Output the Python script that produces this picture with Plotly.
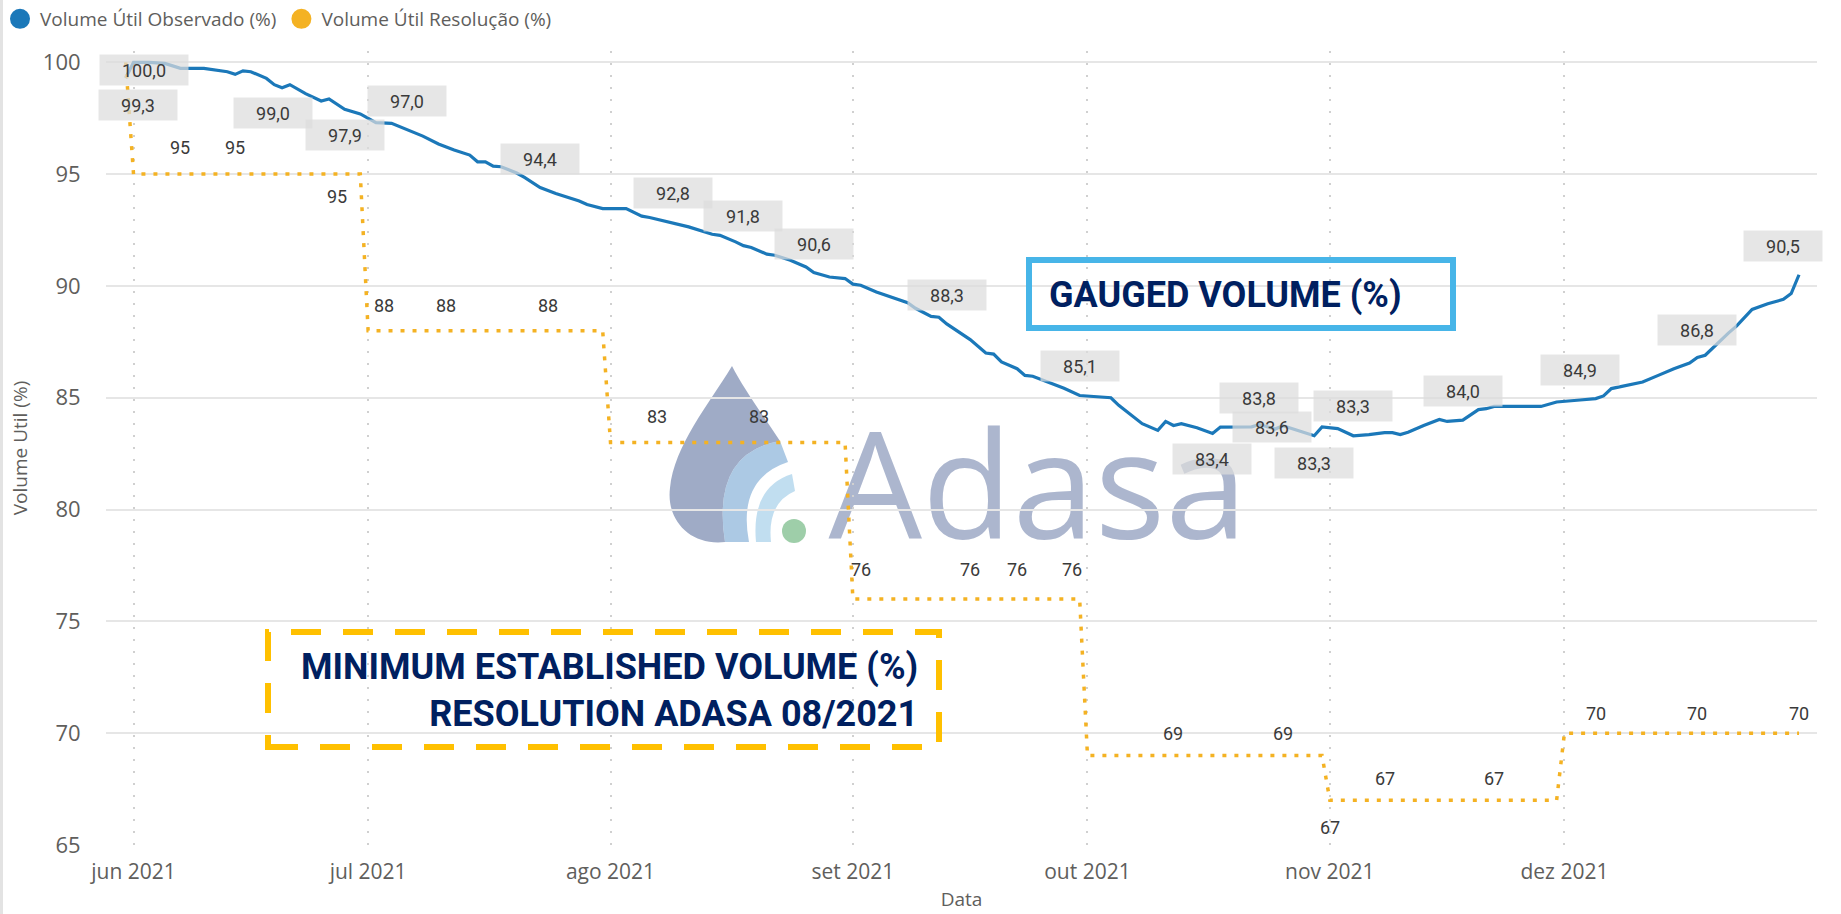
import plotly.graph_objects as go

# ---------------- data ----------------
obs_dates = [
    "2021-05-31", "2021-06-01", "2021-06-03", "2021-06-05", "2021-06-07", "2021-06-10",
    "2021-06-13", "2021-06-14", "2021-06-15", "2021-06-16", "2021-06-18", "2021-06-19",
    "2021-06-20", "2021-06-21", "2021-06-23", "2021-06-25", "2021-06-26", "2021-06-28",
    "2021-06-30", "2021-07-02", "2021-07-04", "2021-07-06", "2021-07-08", "2021-07-10",
    "2021-07-12", "2021-07-14", "2021-07-15", "2021-07-16", "2021-07-17", "2021-07-18",
    "2021-07-20", "2021-07-21", "2021-07-23", "2021-07-25", "2021-07-28", "2021-07-29",
    "2021-07-31", "2021-08-03", "2021-08-05", "2021-08-06", "2021-08-08", "2021-08-09",
    "2021-08-11", "2021-08-14", "2021-08-15", "2021-08-17", "2021-08-18", "2021-08-19",
    "2021-08-21", "2021-08-22", "2021-08-24", "2021-08-26", "2021-08-27", "2021-08-29",
    "2021-08-31", "2021-09-01", "2021-09-02", "2021-09-04", "2021-09-06", "2021-09-08",
    "2021-09-09", "2021-09-11", "2021-09-12", "2021-09-13", "2021-09-16", "2021-09-18",
    "2021-09-19", "2021-09-20", "2021-09-22", "2021-09-23", "2021-09-24", "2021-09-26",
    "2021-09-28", "2021-09-30", "2021-10-03", "2021-10-04", "2021-10-05", "2021-10-07",
    "2021-10-08", "2021-10-10", "2021-10-11", "2021-10-12", "2021-10-13", "2021-10-15",
    "2021-10-17", "2021-10-18", "2021-10-22", "2021-10-23", "2021-10-25", "2021-10-26",
    "2021-10-28", "2021-10-30", "2021-10-31", "2021-11-01", "2021-11-02", "2021-11-04",
    "2021-11-06", "2021-11-08", "2021-11-09", "2021-11-10", "2021-11-11", "2021-11-13",
    "2021-11-15", "2021-11-16", "2021-11-18", "2021-11-20", "2021-11-21", "2021-11-22",
    "2021-11-28", "2021-11-30", "2021-12-02", "2021-12-03", "2021-12-05", "2021-12-06",
    "2021-12-07", "2021-12-08", "2021-12-11", "2021-12-13", "2021-12-15", "2021-12-17",
    "2021-12-18", "2021-12-19", "2021-12-21", "2021-12-22", "2021-12-23", "2021-12-25",
    "2021-12-27", "2021-12-29", "2021-12-30", "2021-12-31",
]
obs_values = [
    99.3, 100.0, 100.0, 99.95, 99.73, 99.73,
    99.58, 99.46, 99.62, 99.58, 99.28, 99.0,
    98.86, 99.0, 98.6, 98.27, 98.36, 97.9,
    97.69, 97.3, 97.27, 97.0, 96.7, 96.35,
    96.08, 95.85, 95.55, 95.55, 95.36, 95.33,
    95.05, 94.85, 94.4, 94.13, 93.8, 93.64,
    93.46, 93.46, 93.12, 93.06, 92.9, 92.8,
    92.64, 92.31, 92.26, 91.97, 91.8, 91.72,
    91.42, 91.37, 91.15, 90.85, 90.6, 90.4,
    90.33, 90.08, 90.03, 89.73, 89.5, 89.25,
    89.0, 88.64, 88.6, 88.3, 87.6, 87.0,
    86.95, 86.6, 86.3, 86.0, 85.96, 85.7,
    85.42, 85.1, 85.05, 85.0, 84.66, 84.14,
    83.84, 83.54, 83.94, 83.76, 83.84, 83.66,
    83.4, 83.69, 83.7, 83.8, 83.6, 83.75,
    83.54, 83.3, 83.69, 83.66, 83.62, 83.3,
    83.35, 83.44, 83.44, 83.35, 83.46, 83.76,
    84.03, 83.94, 84.0, 84.47, 84.51, 84.61,
    84.61, 84.81, 84.85, 84.9, 84.96, 85.08,
    85.41, 85.48, 85.7, 86.0, 86.3, 86.55,
    86.8, 86.9, 87.6, 87.9, 88.2, 88.95,
    89.2, 89.4, 89.66, 90.5,
]

res_dates = [
    "2021-05-31", "2021-06-01", "2021-06-30", "2021-07-01", "2021-07-31",
    "2021-08-01", "2021-08-31", "2021-09-01", "2021-09-30", "2021-10-01",
    "2021-10-31", "2021-11-01", "2021-11-30", "2021-12-01", "2021-12-31",
]
res_values = [100, 95, 95, 88, 88, 83, 83, 76, 76, 69, 69, 67, 67, 70, 70]

month_ticks = ["2021-06-01", "2021-07-01", "2021-08-01", "2021-09-01",
               "2021-10-01", "2021-11-01", "2021-12-01"]
month_labels = ["jun 2021", "jul 2021", "ago 2021", "set 2021",
                "out 2021", "nov 2021", "dez 2021"]

y_ticks = [65, 70, 75, 80, 85, 90, 95, 100]

# data labels (points that carry a label)
obs_label_dates = [
    "2021-05-31", "2021-06-01", "2021-06-19", "2021-06-28", "2021-07-06",
    "2021-07-23", "2021-08-09", "2021-08-18", "2021-08-27", "2021-09-13",
    "2021-09-30", "2021-10-17", "2021-10-23", "2021-10-25", "2021-10-30",
    "2021-11-04", "2021-11-18", "2021-12-03", "2021-12-18", "2021-12-31",
]
res_label_dates = [
    "2021-06-07", "2021-06-14", "2021-06-27", "2021-07-03", "2021-07-11",
    "2021-07-24", "2021-08-07", "2021-08-20", "2021-09-02", "2021-09-16",
    "2021-09-22", "2021-09-29", "2021-10-12", "2021-10-26", "2021-11-01",
    "2021-11-08", "2021-11-22", "2021-12-05", "2021-12-18", "2021-12-31",
]

# ---------------- styling / placement ----------------
W, H = 1841, 914
PL, PR, PT, PB = 106, 1817, 51, 845  # plot area in px

obs_label_shift = [(12, -27), (10, -8), (-1, -28), (0, -26), (0, 28),
                   (0, 29), (0, 30), (0, 30), (0, 29), (0, 29),
                   (0, 30), (-1, -25), (0, 27), (-3, 2), (0, -27),
                   (0, 30), (0, 29), (0, 30), (0, 27), (-16, 29)]
res_label_dy = [27, 27, -22, 25, 25, 25, 26, 26, 30, 30,
                30, 30, 22, 22, -27, 22, 22, 20, 20, 20]

BLUE = "#1B78B9"
GOLD = "#F4B223"
TXT = "#605E5C"
LBL = "#3A3A3A"
NAVY = "#002060"
UI_FONT = "Segoe UI, Open Sans, sans-serif"


def to_paper(x, y):
    return (x - PL) / (PR - PL), (PB - y) / (PB - PT)


def px_path(spec):
    out, nums = [], []
    for t in spec.split():
        if t.isalpha():
            out.append(t)
        else:
            nums.append(float(t))
            if len(nums) == 2:
                a, b = to_paper(*nums)
                out.append(f"{a:.5f},{b:.5f}")
                nums = []
    return " ".join(out)


fig = go.Figure()

# real series (legend drawn by marker-only proxies)
fig.add_trace(go.Scatter(x=obs_dates, y=obs_values, mode="lines",
                         line=dict(color=BLUE, width=3.2), showlegend=False,
                         name="Volume Útil Observado (%)"))
fig.add_trace(go.Scatter(x=res_dates, y=res_values, mode="lines",
                         line=dict(color=GOLD, width=3.5, dash="4px,8px"),
                         showlegend=False, name="Volume Útil Resolução (%)"))
fig.add_trace(go.Scatter(x=[None], y=[None], mode="markers",
                         marker=dict(color=BLUE, size=16, line=dict(color=BLUE, width=4)),
                         name="Volume Útil Observado (%)"))
fig.add_trace(go.Scatter(x=[None], y=[None], mode="markers",
                         marker=dict(color=GOLD, size=16, line=dict(color=GOLD, width=4)),
                         name="Volume Útil Resolução (%)"))

annotations = []
obs_lookup = dict(zip(obs_dates, obs_values))
for d, (dx, dy) in zip(obs_label_dates, obs_label_shift):
    v = obs_lookup[d]
    txt = f"{v:.1f}".replace(".", ",")
    annotations.append(dict(
        x=d, y=v, xref="x", yref="y", text=txt, showarrow=False,
        xshift=dx, yshift=dy, font=dict(family="Roboto", size=18, color=LBL),
        bgcolor="rgba(220,220,220,0.72)", width=88 if v >= 100 else 78,
        height=30, borderpad=0))


def res_value_at(d):
    val = res_values[0]
    for rd, rv in zip(res_dates, res_values):
        if rd <= d:
            val = rv
    return val


for d, dy in zip(res_label_dates, res_label_dy):
    v = res_value_at(d)
    annotations.append(dict(
        x=d, y=v, xref="x", yref="y", text=str(v), showarrow=False,
        yshift=dy, font=dict(family="Roboto", size=18, color=LBL)))

# callout texts
gx, gy = to_paper(1047, 295)
annotations.append(dict(x=gx, y=gy, xref="paper", yref="paper",
                        xanchor="left", yanchor="middle", showarrow=False,
                        text="GAUGED VOLUME (%)",
                        font=dict(family="Roboto", size=36, color=NAVY, weight="bold")))
mx, my = to_paper(920, 690)
annotations.append(dict(x=mx, y=my, xref="paper", yref="paper",
                        xanchor="right", yanchor="middle", align="right",
                        showarrow=False,
                        text="MINIMUM ESTABLISHED VOLUME (%)<br>RESOLUTION ADASA 08/2021",
                        font=dict(family="Roboto", size=36, color=NAVY, weight="bold")))

shapes = []
# watermark logo (below gridlines)
logo_parts = [
    ("M 732 366 C 742 386 762 414 780 441 Q 711 453 725 542 C 690 546 666 520 670 488 C 674 446 709 404 732 366 Z",
     "rgba(122,139,176,0.72)"),
    ("M 780 441 Q 711 453 725 542 L 749 542 Q 737 479 788 462 Z",
     "rgba(128,172,214,0.65)"),
    ("M 792 474 Q 751 487 756 542 L 771 542 Q 767 503 795 491 Z",
     "rgba(160,205,232,0.65)"),
]
for p, c in logo_parts:
    shapes.append(dict(type="path", path=px_path(p), xref="paper", yref="paper",
                       fillcolor=c, line=dict(width=0), layer="below"))
cx0, cy0 = to_paper(782, 543)
cx1, cy1 = to_paper(806, 519)
shapes.append(dict(type="circle", xref="paper", yref="paper", x0=cx0, y0=cy0,
                   x1=cx1, y1=cy1, fillcolor="rgba(125,190,140,0.75)",
                   line=dict(width=0), layer="below"))
ax0, ay0 = to_paper(822, 567)
ax1, ay1 = to_paper(1254, 415)
shapes.append(dict(type="rect", xref="paper", yref="paper", x0=ax0, y0=ay0,
                   x1=ax1, y1=ay1, line=dict(width=0),
                   fillcolor="rgba(0,0,0,0)", layer="below",
                   label=dict(text="Adasa", textposition="middle center",
                              font=dict(family="Open Sans", size=148,
                                        color="rgba(132,148,183,0.68)"))))

# callout boxes
bx0, by0 = to_paper(1029, 328)
bx1, by1 = to_paper(1453, 260)
shapes.append(dict(type="rect", xref="paper", yref="paper", x0=bx0, y0=by0,
                   x1=bx1, y1=by1, line=dict(color="#47B5E8", width=6),
                   fillcolor="rgba(255,255,255,0)"))
dx0, dy0 = to_paper(268, 747)
dx1, dy1 = to_paper(939, 632)
shapes.append(dict(type="rect", xref="paper", yref="paper", x0=dx0, y0=dy0,
                   x1=dx1, y1=dy1,
                   line=dict(color="#FFC000", width=6, dash="30px,22px"),
                   fillcolor="rgba(255,255,255,0)"))
# thin frame line at the left edge
lx, _ = to_paper(1.5, 0)
shapes.append(dict(type="line", xref="paper", yref="paper", x0=lx, x1=lx,
                   y0=to_paper(0, 914)[1], y1=to_paper(0, 0)[1],
                   line=dict(color="#E3E3E3", width=3)))

fig.update_layout(
    width=W, height=H,
    margin=dict(l=PL, r=W - PR, t=PT, b=H - PB, autoexpand=False),
    paper_bgcolor="white", plot_bgcolor="white",
    font=dict(family=UI_FONT, color=TXT),
    showlegend=True,
    legend=dict(orientation="h", xref="container", yref="container",
                x=0.0, y=1.0, xanchor="left", yanchor="top",
                font=dict(family=UI_FONT, size=19, color=TXT),
                itemwidth=30, bgcolor="rgba(0,0,0,0)"),
    annotations=annotations,
    shapes=shapes,
    xaxis=dict(
        type="date",
        range=["2021-05-28 11:30", "2022-01-02 07:12"],
        tickvals=month_ticks, ticktext=month_labels,
        tickfont=dict(family=UI_FONT, size=21, color=TXT),
        ticks="outside", ticklen=8, tickcolor="rgba(0,0,0,0)",
        showgrid=True, gridcolor="#D0D0D0", gridwidth=1.5, griddash="2px,10px",
        showline=False, zeroline=False, automargin=False,
        title=dict(text="Data", font=dict(family=UI_FONT, size=19, color=TXT),
                   standoff=8),
    ),
    yaxis=dict(
        range=[65, 100.505],
        tickvals=y_ticks,
        tickfont=dict(family=UI_FONT, size=22, color=TXT),
        ticks="outside", ticklen=20, tickcolor="rgba(0,0,0,0)",
        showgrid=True, gridcolor="#E6E6E6", gridwidth=1.5,
        showline=False, zeroline=False, automargin=False,
        title=dict(text="Volume Util (%)",
                   font=dict(family=UI_FONT, size=19, color=TXT), standoff=10),
    ),
)

fig.write_html("out.html", config={"displayModeBar": False},
               post_script="document.body.style.margin='0px';")
